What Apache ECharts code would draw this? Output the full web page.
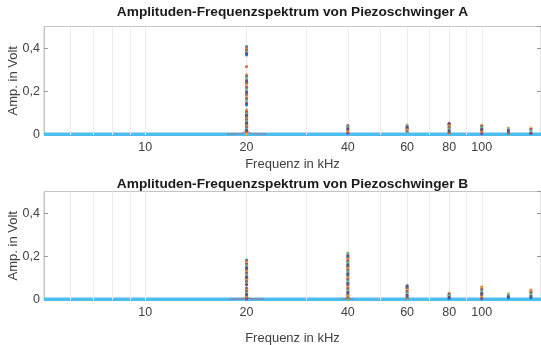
<!DOCTYPE html>
<html>
<head>
<meta charset="utf-8">
<script src="https://cdn.jsdelivr.net/npm/echarts@6/dist/echarts.min.js"></script>
<style>
  html, body { margin: 0; padding: 0; background: #ffffff; }
  #chart { width: 541px; height: 345px; }
</style>
</head>
<body>
<div id="chart"></div>
<script>
// Harmonic frequencies (kHz) where the spectra show peaks
const harmonicFreqs = [20, 40, 60, 80, 100, 120, 140];

// Amplitudes (V) of the individual FFT points stacked at each harmonic, oscillator A
const ampA = [
  [0.407, 0.401, 0.396, 0.391, 0.386, 0.380, 0.375, 0.369,
   0.315,
   0.280, 0.272, 0.265, 0.258, 0.250, 0.243, 0.236, 0.228, 0.220, 0.213, 0.205,
   0.198, 0.190, 0.183, 0.175, 0.168, 0.160, 0.152, 0.145, 0.138,
   0.115, 0.110, 0.105, 0.100, 0.095, 0.090, 0.085, 0.080, 0.075, 0.070, 0.065,
   0.060, 0.055, 0.050, 0.045, 0.040, 0.035, 0.030, 0.025, 0.020, 0.015, 0.010, 0.005],
  [0.043, 0.038, 0.033, 0.028, 0.023, 0.018, 0.013, 0.008],
  [0.046, 0.041, 0.036, 0.031, 0.026, 0.021, 0.016, 0.011, 0.006],
  [0.054, 0.049, 0.044, 0.039, 0.034, 0.029, 0.024, 0.019, 0.014, 0.009],
  [0.046, 0.041, 0.036, 0.031, 0.026, 0.021, 0.016, 0.011, 0.006],
  [0.032, 0.026, 0.020, 0.014, 0.008],
  [0.032, 0.026, 0.020, 0.014, 0.008]
];

// Amplitudes (V) of the individual FFT points stacked at each harmonic, oscillator B
const ampB = [
  [0.184, 0.178, 0.172, 0.166, 0.160, 0.154, 0.148, 0.142, 0.136, 0.130, 0.124,
   0.115, 0.110, 0.105, 0.100, 0.095, 0.090, 0.085, 0.080, 0.075, 0.070,
   0.055, 0.050, 0.045, 0.040, 0.035, 0.030, 0.025, 0.020, 0.015, 0.010, 0.005],
  [0.216, 0.210, 0.204, 0.198, 0.192, 0.186, 0.180, 0.174, 0.168, 0.162, 0.156,
   0.150, 0.144, 0.138, 0.132, 0.126, 0.120, 0.115,
   0.106, 0.100, 0.094, 0.088, 0.082, 0.076, 0.070, 0.064, 0.058, 0.052, 0.046,
   0.040, 0.034, 0.028, 0.022, 0.016, 0.010, 0.005],
  [0.069, 0.063, 0.057, 0.051, 0.045, 0.039, 0.033, 0.027, 0.021, 0.015, 0.009],
  [0.032, 0.027, 0.022, 0.017, 0.012, 0.007],
  [0.060, 0.054, 0.048, 0.042, 0.036, 0.030, 0.024, 0.018, 0.012, 0.006],
  [0.028, 0.022, 0.016, 0.010],
  [0.046, 0.040, 0.034, 0.028, 0.022, 0.016, 0.010]
];

// Leakage skirt at the base of the 20 kHz (and 40 kHz for B) peak: [kHz, V]
const skirtA = [[17.5, 0.004], [19.4, 0.007], [19.8, 0.016], [20, 0.035], [20.2, 0.016], [20.6, 0.007], [22.9, 0.004]];
const skirtB20 = [[17.8, 0.004], [19.5, 0.006], [19.85, 0.012], [20, 0.025], [20.15, 0.012], [20.5, 0.006], [22.5, 0.004]];
const skirtB40 = [[38.5, 0.004], [39.6, 0.007], [40, 0.02], [40.4, 0.007], [41.5, 0.004]];

// Near-zero noise floor spanning the whole band
const noiseFloor = [[5, 0.003], [150, 0.003]];

// Axis ticks and grid
const xRange = [5, 150];
const tickFreqs = [10, 20, 40, 60, 80, 100];
const gridFreqs = [6, 7, 8, 9, 10, 20, 30, 40, 50, 60, 70, 80, 90, 100];
const yRange = [0, 0.5];
const yStep = 0.2;

const titles = [
  'Amplituden-Frequenzspektrum von Piezoschwinger A',
  'Amplituden-Frequenzspektrum von Piezoschwinger B'
];

// MATLAB default colour order
const palette = ['#0072BD', '#D95319', '#EDB120', '#7E2F8E', '#77AC30', '#4DBEEE', '#A2142F'];

const FONT = 'Liberation Sans, Arial, Helvetica, sans-serif';
const TEXT = '#404040';
const BOX = '#c4c4c4';

const gridTops = [26.5, 191.5];
const plotH = 108.5;
const xNameGaps = [23, 32];
const titleTops = [5, 177];

function dotData(amps) {
  const out = [];
  let k = 0;
  amps.forEach((list, h) => {
    list.forEach(v => {
      out.push({ value: [harmonicFreqs[h], v], itemStyle: { color: palette[k % palette.length] } });
      k++;
    });
  });
  return out;
}

const grids = [], xAxes = [], yAxes = [], series = [], titleOpts = [];

[0, 1].forEach(i => {
  grids.push({
    left: 44, right: 0, top: gridTops[i], height: plotH,
    outerBoundsMode: 'none', containLabel: false,
    show: true, borderColor: BOX, borderWidth: 1, backgroundColor: '#ffffff'
  });
  titleOpts.push({
    text: titles[i], left: 292.5, textAlign: 'center',
    top: titleTops[i], padding: 0,
    textStyle: { fontFamily: FONT, fontSize: 13.7, fontWeight: 'bold', color: '#1a1a1a' }
  });
  xAxes.push({
    type: 'log', logBase: 10, gridIndex: i, min: xRange[0], max: xRange[1],
    axisLine: { show: false },
    axisTick: { show: false },
    splitLine: { show: false },
    axisLabel: {
      customValues: tickFreqs, formatter: v => String(Math.round(v)),
      color: TEXT, fontFamily: FONT, fontSize: 12.5, margin: 6
    },
    name: 'Frequenz in kHz', nameLocation: 'middle', nameGap: xNameGaps[i],
    nameTextStyle: { color: TEXT, fontFamily: FONT, fontSize: 13 }
  });
  yAxes.push({
    type: 'value', gridIndex: i, min: yRange[0], max: yRange[1], interval: yStep,
    axisLine: { show: true, lineStyle: { color: BOX } },
    axisTick: { show: true, inside: true, length: 4, lineStyle: { color: '#9a9a9a' } },
    splitLine: { show: false },
    axisLabel: {
      showMaxLabel: false, margin: 4,
      formatter: v => (v === 0 ? '0' : v.toFixed(1).replace('.', ',')),
      color: TEXT, fontFamily: FONT, fontSize: 12.5
    },
    name: 'Amp. in Volt', nameLocation: 'middle', nameGap: 24, nameMoveOverlap: false,
    nameTextStyle: { color: TEXT, fontFamily: FONT, fontSize: 13 }
  });
  yAxes.push({
    type: 'value', gridIndex: i, position: 'right', min: yRange[0], max: yRange[1], interval: yStep,
    axisLine: { show: true, lineStyle: { color: BOX } },
    axisTick: { show: true, inside: true, length: 4, lineStyle: { color: '#9a9a9a' } },
    axisLabel: { show: false },
    splitLine: { show: false }
  });
  const yIdx = i * 2;

  // Vertical grid lines (major and minor decades)
  series.push({
    type: 'line', xAxisIndex: i, yAxisIndex: yIdx, data: noiseFloor,
    symbol: 'none', lineStyle: { opacity: 0 }, silent: true, z: 1,
    markLine: {
      silent: true, symbol: ['none', 'none'], label: { show: false },
      lineStyle: { color: '#ececec', type: 'solid', width: 1 },
      data: gridFreqs.map(f => ({ xAxis: f }))
    }
  });
  // Noise floor
  series.push({
    type: 'line', xAxisIndex: i, yAxisIndex: yIdx, data: noiseFloor,
    symbol: 'none', lineStyle: { color: '#4DBEEE', width: 3.5 }, z: 3, silent: true
  });
  // Leakage skirts
  const skirts = i === 0 ? [skirtA] : [skirtB20, skirtB40];
  skirts.forEach(s => series.push({
    type: 'line', xAxisIndex: i, yAxisIndex: yIdx, data: s,
    symbol: 'none', lineStyle: { color: 'rgba(200,70,90,0.55)', width: 1.2 }, z: 4, silent: true
  }));
  // FFT points
  series.push({
    type: 'scatter', xAxisIndex: i, yAxisIndex: yIdx,
    data: dotData(i === 0 ? ampA : ampB),
    symbol: 'circle', symbolSize: 3.2, z: 5, silent: true
  });
});

const chart = echarts.init(document.getElementById('chart'), null, { renderer: 'canvas' });
chart.setOption({
  animation: false,
  backgroundColor: '#ffffff',
  title: titleOpts,
  grid: grids,
  xAxis: xAxes,
  yAxis: yAxes,
  series: series
});
</script>
</body>
</html>
